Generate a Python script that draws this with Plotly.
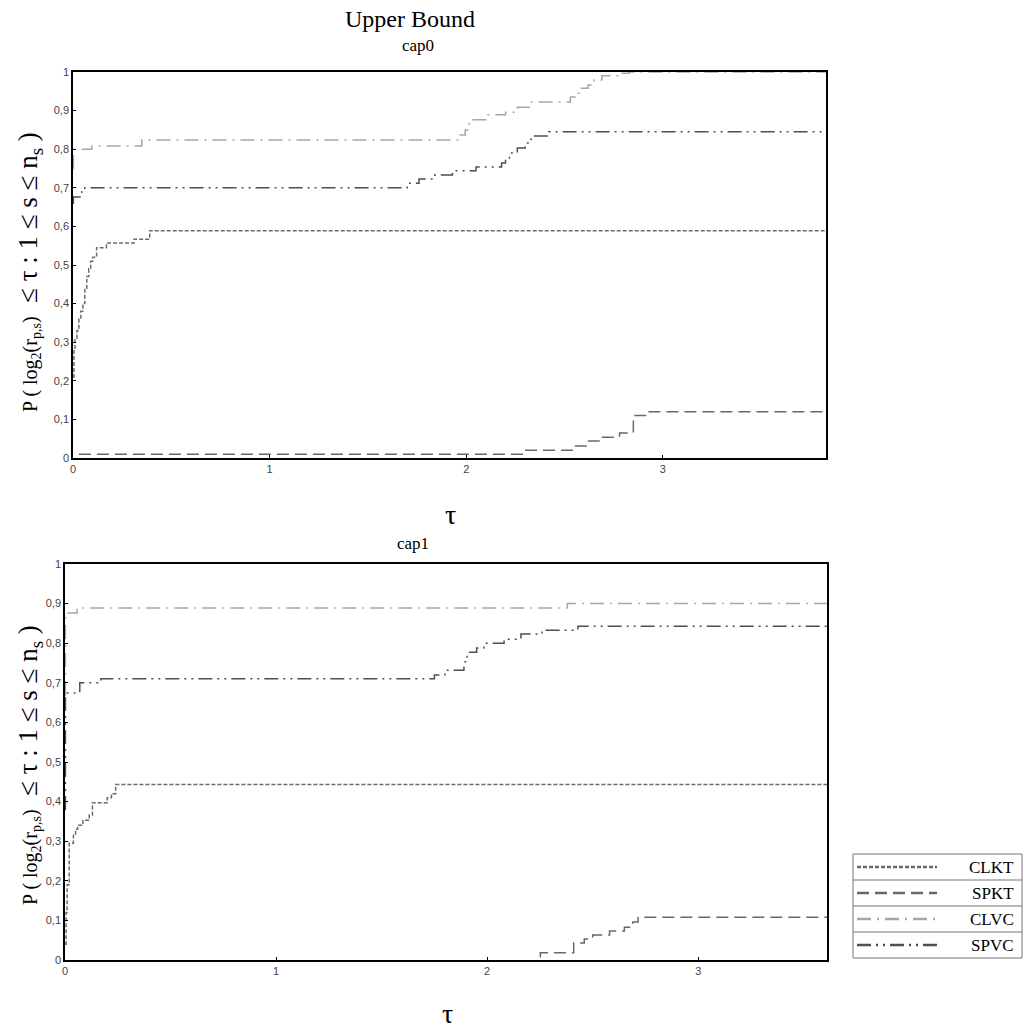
import plotly.graph_objects as go

W, H = 1024, 1029

series_names = ["CLKT", "SPKT", "CLVC", "SPVC"]
series_colors = ["#6b6b6b", "#686868", "#a6a6a6", "#4f4f4f"]
series_dash = ["4px,2px", "12px,6px", "14px,6px,2px,6px", "14px,5px,2px,5px,2px,5px"]

# cap0 (upper panel)
cap0_clkt_x = [0, 0.005, 0.01, 0.02, 0.03, 0.04, 0.05, 0.06, 0.07, 0.08, 0.09, 0.10, 0.12, 0.17, 0.31, 0.39, 3.83]
cap0_clkt_y = [0.21, 0.28, 0.31, 0.33, 0.36, 0.38, 0.40, 0.44, 0.47, 0.49, 0.51, 0.52, 0.545, 0.557, 0.567, 0.589, 0.589]
cap0_spkt_x = [0.03, 2.29, 2.55, 2.61, 2.69, 2.78, 2.85, 2.92, 3.83]
cap0_spkt_y = [0.01, 0.02, 0.031, 0.044, 0.054, 0.065, 0.11, 0.12, 0.12]
cap0_clvc_x = [0, 0.002, 0.096, 0.35, 1.965, 1.995, 2.015, 2.10, 2.20, 2.26, 2.32, 2.53, 2.57, 2.58, 2.62, 2.65, 2.69, 2.79, 2.83, 3.83]
cap0_clvc_y = [0.75, 0.80, 0.808, 0.824, 0.837, 0.85, 0.876, 0.889, 0.896, 0.909, 0.922, 0.935, 0.945, 0.958, 0.966, 0.979, 0.99, 0.997, 1.0, 1.0]
cap0_spvc_x = [0, 0.002, 0.045, 0.06, 1.70, 1.76, 1.84, 1.93, 2.05, 2.18, 2.20, 2.22, 2.26, 2.30, 2.33, 2.42, 3.83]
cap0_spvc_y = [0.66, 0.676, 0.69, 0.70, 0.712, 0.723, 0.733, 0.744, 0.754, 0.764, 0.777, 0.79, 0.803, 0.816, 0.834, 0.845, 0.845]

# cap1 (lower panel)
cap1_clkt_x = [0, 0.005, 0.01, 0.02, 0.04, 0.05, 0.06, 0.085, 0.115, 0.13, 0.20, 0.22, 0.24, 3.61]
cap1_clkt_y = [0.04, 0.12, 0.19, 0.295, 0.315, 0.33, 0.34, 0.353, 0.366, 0.397, 0.41, 0.42, 0.443, 0.445]
cap1_spkt_x = [2.25, 2.252, 2.41, 2.46, 2.50, 2.58, 2.65, 2.69, 2.715, 3.61]
cap1_spkt_y = [0.008, 0.018, 0.043, 0.053, 0.063, 0.073, 0.083, 0.096, 0.108, 0.11]
cap1_clvc_x = [0, 0.002, 0.057, 2.38, 3.61]
cap1_clvc_y = [0.67, 0.876, 0.889, 0.90, 0.90]
cap1_spvc_x = [0, 0.002, 0.07, 0.17, 1.75, 1.80, 1.89, 1.905, 1.95, 1.985, 2.08, 2.16, 2.26, 2.43, 3.61]
cap1_spvc_y = [0.38, 0.674, 0.70, 0.71, 0.72, 0.732, 0.753, 0.777, 0.788, 0.80, 0.81, 0.823, 0.833, 0.843, 0.845]

y_ticks = [0, 0.1, 0.2, 0.3, 0.4, 0.5, 0.6, 0.7, 0.8, 0.9, 1]
x_ticks = [0, 1, 2, 3]
x_max_top = 3.83
x_max_bottom = 3.61

panels = [
    ("x", "y", [(cap0_clkt_x, cap0_clkt_y), (cap0_spkt_x, cap0_spkt_y), (cap0_clvc_x, cap0_clvc_y), (cap0_spvc_x, cap0_spvc_y)]),
    ("x2", "y2", [(cap1_clkt_x, cap1_clkt_y), (cap1_spkt_x, cap1_spkt_y), (cap1_clvc_x, cap1_clvc_y), (cap1_spvc_x, cap1_spvc_y)]),
]

fig = go.Figure()
for xa, ya, data in panels:
    for i, (xs, ys) in enumerate(data):
        fig.add_trace(go.Scatter(
            x=xs, y=ys, mode="lines", name=series_names[i], xaxis=xa, yaxis=ya,
            line=dict(color=series_colors[i], width=1.5, dash=series_dash[i], shape="hv"),
            showlegend=False, hoverinfo="skip"))

def px_x(p):
    return p / W

def px_y(p):
    return (H - p) / H

axis_common = dict(showline=True, linecolor="black", linewidth=1.5, mirror=True, automargin=False,
                   ticks="inside", ticklen=3, tickcolor="black", showgrid=False, zeroline=False,
                   tickfont=dict(family="Liberation Sans, Arial", size=11, color="#444"))

fig.update_layout(
    template="none",
    width=W, height=H, margin=dict(l=0, r=0, t=0, b=0, pad=0, autoexpand=False),
    paper_bgcolor="white", plot_bgcolor="white", separators=", ",
    xaxis=dict(domain=[px_x(73), px_x(826)], range=[0, x_max_top], tickvals=x_ticks, anchor="y", **axis_common),
    yaxis=dict(domain=[px_y(458), px_y(72)], range=[0, 1], tickvals=y_ticks, anchor="x", **axis_common),
    xaxis2=dict(domain=[px_x(65), px_x(827)], range=[0, x_max_bottom], tickvals=x_ticks, anchor="y2", **axis_common),
    yaxis2=dict(domain=[px_y(960), px_y(564)], range=[0, 1], tickvals=y_ticks, anchor="x2", **axis_common),
    showlegend=False,
)

serif = "Liberation Serif, Times New Roman, serif"
ylab = ('<span style="font-size:20px">P ( log<sub>2</sub>(r<sub>p,s</sub>)</span>'
        '  ≤ τ : 1 ≤ s ≤ n<sub>s</sub> )')

annots = [
    dict(text="Upper Bound", x=px_x(410), y=px_y(19), size=24),
    dict(text="cap0", x=px_x(418), y=px_y(46), size=17),
    dict(text="τ", x=px_x(450), y=px_y(514), size=28),
    dict(text="cap1", x=px_x(413), y=px_y(543), size=17),
    dict(text="τ", x=px_x(447), y=px_y(1013), size=28),
]
for a in annots:
    fig.add_annotation(text=a["text"], x=a["x"], y=a["y"], xref="paper", yref="paper",
                       showarrow=False, xanchor="center", yanchor="middle",
                       font=dict(family=serif, size=a["size"], color="black"))
for yc in (272, 765):
    fig.add_annotation(text=ylab, x=px_x(30), y=px_y(yc), xref="paper", yref="paper",
                       showarrow=False, textangle=-90, xanchor="center", yanchor="middle",
                       font=dict(family=serif, size=27, color="black"))

# legend box (manual, rows with separators)
lx0, lx1 = 853, 1022
row_edges = [854, 880, 906, 932, 958]
fig.add_shape(type="rect", xref="paper", yref="paper", x0=px_x(lx0), x1=px_x(lx1),
              y0=px_y(row_edges[-1]), y1=px_y(row_edges[0]), line=dict(color="#777", width=1))
for e in row_edges[1:-1]:
    fig.add_shape(type="line", xref="paper", yref="paper", x0=px_x(lx0), x1=px_x(lx1),
                  y0=px_y(e), y1=px_y(e), line=dict(color="#777", width=1))
for i, name in enumerate(series_names):
    yc = (row_edges[i] + row_edges[i + 1]) / 2
    fig.add_shape(type="line", xref="paper", yref="paper", x0=px_x(857), x1=px_x(937),
                  y0=px_y(yc), y1=px_y(yc),
                  line=dict(color=series_colors[i], width=2.5, dash=series_dash[i]))
    fig.add_annotation(text=name, x=px_x(1016), y=px_y(yc), xref="paper", yref="paper",
                       showarrow=False, xanchor="right", yanchor="middle",
                       font=dict(family=serif, size=17, color="black"))

fig.write_html("out.html", config={"displayModeBar": False},
               post_script="document.body.style.margin='0';")
